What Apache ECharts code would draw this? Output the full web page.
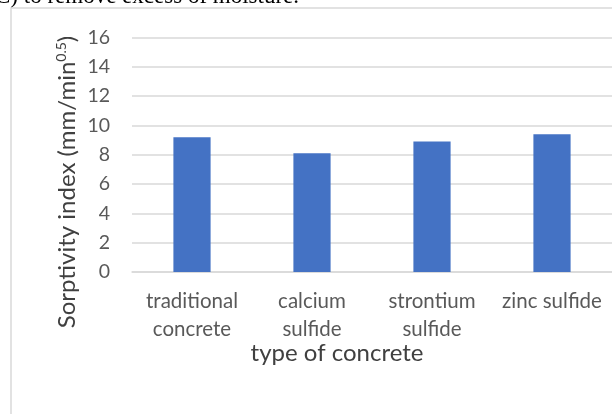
<!DOCTYPE html>
<html>
<head>
<meta charset="utf-8">
<script src="https://cdn.jsdelivr.net/npm/echarts@6/dist/echarts.min.js"></script>
<style>
  html, body { margin: 0; padding: 0; background: #fff; }
  #chart { width: 612px; height: 414px; }
</style>
</head>
<body>
<div id="chart"></div>
<script>
// Concrete types and their sorptivity index values
var categories = ['traditional\nconcrete', 'calcium\nsulfide', 'strontium\nsulfide', 'zinc sulfide'];
var sorptivity = [9.2, 8.1, 8.9, 9.4];
var yTicks = { min: 0, max: 16, interval: 2 };

var FONT = 'Lato, "Open Sans", sans-serif';
var chart = echarts.init(document.getElementById('chart'), null, { renderer: 'canvas' });

chart.setOption({
  backgroundColor: '#ffffff',
  animation: false,
  graphic: [
    // caption line above the chart frame
    {
      type: 'text', x: -5, y: 8, silent: true,
      style: {
        text: 'C) to remove excess of moisture.',
        fontFamily: 'Liberation Serif', fontSize: 23,
        fill: '#000', verticalAlign: 'bottom'
      }
    },
    // chart frame
    {
      type: 'polyline', silent: true,
      shape: { points: [[11, 414], [11, 8], [612, 8]] },
      style: { stroke: '#d9d9d9', lineWidth: 1.5, fill: null }
    },
    // x axis title
    {
      type: 'text', silent: true, x: 337, y: 353,
      style: { text: 'type of concrete', font: '24px ' + FONT, fill: '#404040', align: 'center', verticalAlign: 'middle' }
    },
    // y axis title (rotated, with superscript exponent)
    {
      type: 'text', silent: true, x: 67, y: 182, rotation: Math.PI / 2,
      style: {
        text: '{a|Sorptivity index (mm/min}{s|0.5}{a|)}',
        align: 'center', verticalAlign: 'middle',
        rich: {
          a: { font: '24px ' + FONT, fill: '#404040' },
          s: { font: '14px ' + FONT, fill: '#404040', verticalAlign: 'top', padding: [0, 0, 12, 0] }
        }
      }
    }
  ],
  grid: { left: 132, top: 37.5, width: 485, height: 234.5, containLabel: false },
  xAxis: {
    type: 'category',
    data: categories,
    axisLine: { show: true, lineStyle: { color: '#d9d9d9', width: 1.5 } },
    axisTick: { show: false },
    axisLabel: { color: '#595959', fontFamily: FONT, fontSize: 20.5, lineHeight: 28, margin: 15, interval: 0 }
  },
  yAxis: {
    type: 'value',
    min: yTicks.min, max: yTicks.max, interval: yTicks.interval,
    axisLine: { show: false },
    axisTick: { show: false },
    splitLine: { lineStyle: { color: '#d9d9d9', width: 1.5 } },
    axisLabel: { color: '#595959', fontFamily: FONT, fontSize: 19.5, margin: 22 }
  },
  series: [{
    type: 'bar',
    data: sorptivity,
    barWidth: '31%',
    itemStyle: { color: '#4472C4' }
  }]
});
</script>
</body>
</html>
